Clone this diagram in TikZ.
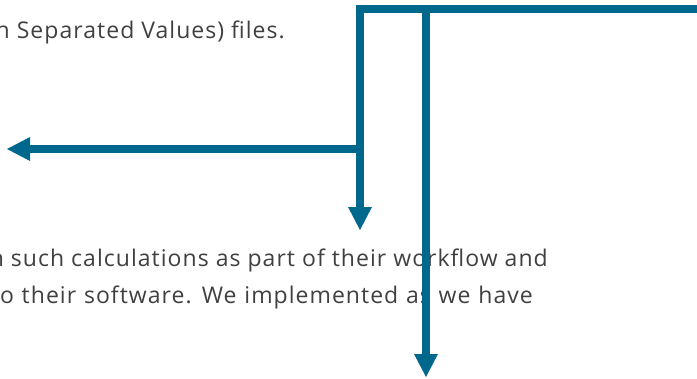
\documentclass[tikz,border=0pt]{standalone}
\usepackage{fontspec}
\setmainfont[LetterSpace=4.5]{Open Sans}
\usetikzlibrary{arrows.meta}
\tikzset{>={Triangle[length=23pt,width=24pt,line width=0pt]}}
\definecolor{flowblue}{RGB}{0,104,140}
\definecolor{textgray}{RGB}{64,64,64}

\begin{document}
\begin{tikzpicture}[x=1pt,y=-1pt,
  txt/.style={font=\fontsize{23}{28}\selectfont,text=textgray,inner sep=0pt},
  widetxt/.style={txt,execute at begin node={\spaceskip=7.8pt\relax}},
  flow/.style={line width=8pt,draw=flowblue,line join=miter}]
\useasboundingbox (0,0) rectangle (697,378);

% Text lines
\node[txt,anchor=base east] (top) at (285,38) {n Separated Values) files.};
\node[txt,anchor=base east] (mid) at (548,266) {n such calculations as part of their workflow and};
\node[widetxt,anchor=base east] (low) at (533,303) {o their software. We implemented as we have};

% Place corner points
\coordinate (E) at (705,9);
\coordinate (C) at (360,9);
\coordinate (D) at (360,230);
\coordinate (J) at (360,149);
\coordinate (L) at (7,149);
\coordinate (T) at (426,9);
\coordinate (B) at (426,377);

% Draw connectors
\draw[flow,->] (E) -- (C) -- (D);
\draw[flow,->] (J) -- (L);
\draw[flow,->] (T) -- (B);
\end{tikzpicture}
\end{document}
